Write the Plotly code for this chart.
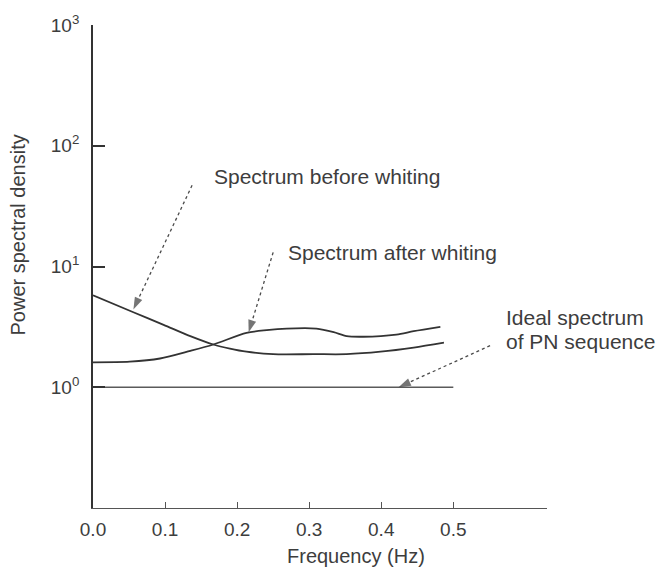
import plotly.graph_objects as go
import numpy as np

# Frequency samples (Hz) and power spectral density values
freq_before = [0.0, 0.056, 0.098, 0.135, 0.167, 0.190, 0.213, 0.25, 0.306, 0.352, 0.399, 0.445, 0.487]
psd_before = [5.78, 4.18, 3.29, 2.65, 2.26, 2.09, 1.97, 1.88, 1.88, 1.88, 1.97, 2.13, 2.34]

freq_after = [0.0, 0.051, 0.093, 0.135, 0.167, 0.213, 0.241, 0.269, 0.310, 0.334, 0.352, 0.375, 0.421, 0.445, 0.482]
psd_after = [1.61, 1.63, 1.73, 2.00, 2.26, 2.82, 2.97, 3.06, 3.06, 2.86, 2.65, 2.62, 2.73, 2.91, 3.16]

freq_ideal = [0.0, 0.5]
psd_ideal = [1.0, 1.0]

x_ticks = [0.0, 0.1, 0.2, 0.3, 0.4, 0.5]
x_tick_text = ["0.0", "0.1", "0.2", "0.3", "0.4", "0.5"]
y_ticks = [1, 10, 100, 1000]
y_tick_text = ["10<sup>0</sup>", "10<sup>1</sup>", "10<sup>2</sup>", "10<sup>3</sup>"]

# Callout labels: (text, x, y) and arrows: (x_start, y_start, x_tip, y_tip)
callouts = [
    ("Spectrum before whiting", 0.165, 56.0),
    ("Spectrum after whiting", 0.268, 13.0),
    ("Ideal spectrum", 0.570, 3.75),
    ("of PN sequence", 0.570, 2.4),
]
arrows = [
    (0.1375, 47.0, 0.056, 4.4),
    (0.250, 13.1, 0.216, 2.85),
    (0.551, 2.21, 0.424, 1.0),
]

INK = "#333333"
TEXT = "#3d3d3d"
FONT = "Liberation Sans, Arial, sans-serif"

fig = go.Figure()

fig.add_trace(go.Scatter(x=freq_before, y=psd_before, mode="lines",
                         line=dict(color=INK, width=1.8, shape="spline", smoothing=0.8),
                         hoverinfo="skip"))
fig.add_trace(go.Scatter(x=freq_after, y=psd_after, mode="lines",
                         line=dict(color=INK, width=1.8, shape="spline", smoothing=0.8),
                         hoverinfo="skip"))
fig.add_trace(go.Scatter(x=freq_ideal, y=psd_ideal, mode="lines",
                         line=dict(color="#5a5a5a", width=1.5),
                         hoverinfo="skip"))

# Dotted pointer lines ending in an arrowhead
for xs, ys, xt, yt in arrows:
    fig.add_trace(go.Scatter(
        x=[xs, xt], y=[ys, yt], mode="lines+markers",
        line=dict(color="#4a4a4a", width=1.3, dash="dot"),
        marker=dict(symbol=["circle", "arrow"], size=[0, 13], angleref="previous",
                    color="#3a3a3a", line=dict(width=0)),
        hoverinfo="skip"))

annotations = []
for text, x, y in callouts:
    annotations.append(dict(text=text, x=x, y=np.log10(y), xref="x", yref="y",
                            xanchor="left", yanchor="middle", showarrow=False,
                            font=dict(family=FONT, size=21, color=TEXT)))

# Axis titles, placed by pixel position
L, R, T, B = 93, 110, 17, 64
W, H = 657, 572
pw, ph = W - L - R, H - T - B
titles = [
    ("Power spectral density", 18, 231, -90),
    ("Frequency (Hz)", 356, 557, 0),
]
for text, px, py, ang in titles:
    annotations.append(dict(text=text, x=(px - L) / pw, y=(H - B - py) / ph,
                            xref="paper", yref="paper", xanchor="center", yanchor="middle",
                            showarrow=False, textangle=ang,
                            font=dict(family=FONT, size=20, color=TEXT)))

fig.update_layout(
    width=W, height=H,
    margin=dict(l=L, r=R, t=T, b=B, pad=0),
    paper_bgcolor="white", plot_bgcolor="white",
    showlegend=False,
    annotations=annotations,
    font=dict(family=FONT, size=20, color=TEXT),
)

fig.update_xaxes(
    range=[0, 0.63], showgrid=False, zeroline=False,
    showline=True, linecolor="#555555", linewidth=1.3,
    tickvals=x_ticks, ticktext=x_tick_text,
    ticks="inside", ticklen=6, tickcolor="#555555", tickwidth=1.3,
    ticklabelstandoff=4,
    tickfont=dict(family=FONT, size=19, color=TEXT),
)
fig.update_yaxes(
    type="log", range=[-1, 3], showgrid=False, zeroline=False,
    showline=True, linecolor=INK, linewidth=1.8,
    tickvals=y_ticks, ticktext=y_tick_text,
    ticks="inside", ticklen=12, tickcolor=INK, tickwidth=1.5,
    ticklabelstandoff=8,
    tickfont=dict(family=FONT, size=19, color=TEXT),
)

fig.write_html("out.html")
